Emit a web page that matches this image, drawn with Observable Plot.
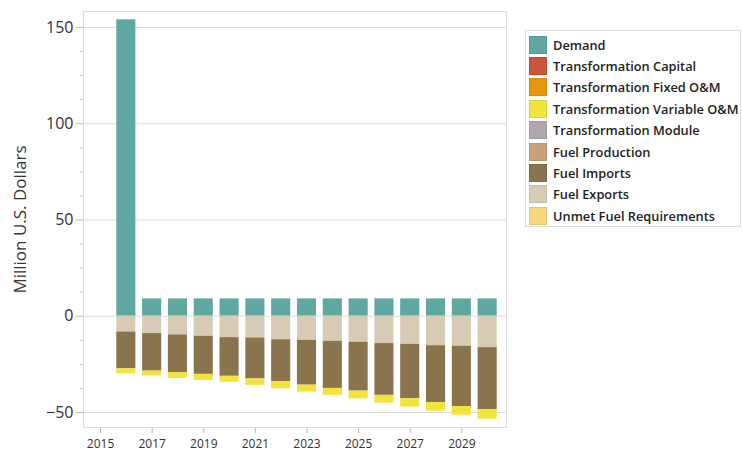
<!DOCTYPE html>
<html>
<head>
<meta charset="utf-8">
<script src="https://cdn.jsdelivr.net/npm/d3@7"></script>
<script src="https://cdn.jsdelivr.net/npm/@observablehq/plot@0.6"></script>
<style>
  html, body { margin: 0; padding: 0; background: #fff; }
  #wrap { position: relative; width: 742px; height: 451px; font-family: "Open Sans", sans-serif; }
  #legend { position: absolute; left: 525px; top: 30px; width: 216px; height: 197px; border: 1px solid #ddd; box-sizing: border-box; padding: 3px 0 0 3px; }
  .row { display: flex; align-items: center; height: 21.4px; }
  .sw { flex: 0 0 18px; width: 18px; height: 18px; margin-right: 6px; box-sizing: border-box; border: 1px solid rgba(0,0,0,0.08); }
  .lab { font-size: 12.8px; font-weight: 600; color: #222; white-space: nowrap; }
</style>
</head>
<body>
<div id="wrap"><div id="chart"></div><div id="legend"></div></div>
<script>
const years = [2016, 2017, 2018, 2019, 2020, 2021, 2022, 2023, 2024, 2025, 2026, 2027, 2028, 2029, 2030];
const seriesNames = ["Demand", "Transformation Capital", "Transformation Fixed O&M", "Transformation Variable O&M", "Transformation Module", "Fuel Production", "Fuel Imports", "Fuel Exports", "Unmet Fuel Requirements"];
const seriesColors = ["#5ea8a1", "#c9553b", "#e8960f", "#f2e43c", "#b1a6ad", "#caa07d", "#8a744d", "#d8cbb5", "#f7d97b"];
const demand = [154, 9, 9, 9, 9, 9, 9, 9, 9, 9, 9, 9, 9, 9, 9];
const fuelExports = [-8.2, -9.0, -9.7, -10.4, -11.1, -11.3, -12.2, -12.5, -13.0, -13.5, -14.2, -14.6, -15.3, -15.6, -16.3];
const fuelImports = [-19.1, -19.5, -19.6, -19.8, -20.1, -21.3, -21.8, -23.3, -24.5, -25.4, -26.9, -28.3, -29.5, -31.3, -32.3];
const variableOM = [-2.6, -2.6, -3.0, -3.1, -3.1, -3.3, -3.7, -3.6, -3.6, -4.0, -4.0, -4.3, -4.5, -4.5, -4.9];
const yTicks = [-50, 0, 50, 100, 150];
const yMinorTicks = [-37.5, -25, -12.5, 12.5, 25, 37.5, 62.5, 75, 87.5, 112.5, 125, 137.5];
const xTicks = [2015, 2017, 2019, 2021, 2023, 2025, 2027, 2029];
const yLabel = "Million U.S. Dollars";

const stacked = [
  ["Demand", demand],
  ["Fuel Exports", fuelExports],
  ["Fuel Imports", fuelImports],
  ["Transformation Variable O&M", variableOM]
];
const data = [];
years.forEach((yr, i) => {
  stacked.forEach(([name, vals]) => data.push({year: yr, series: name, value: vals[i]}));
});

const halfBar = 0.37;
const chart = Plot.plot({
  width: 742,
  height: 451,
  marginLeft: 83,
  marginRight: 236,
  marginTop: 11,
  marginBottom: 24,
  style: {fontFamily: "'Open Sans', sans-serif", background: "#fff"},
  x: {domain: [2014.34, 2030.73]},
  y: {domain: [-57.8, 158.3]},
  color: {domain: seriesNames, range: seriesColors},
  marks: [
    Plot.gridY(yTicks, {stroke: "#dcdcdc", strokeOpacity: 1}),
    Plot.axisY(yMinorTicks, {tickSize: 3, tickFormat: () => "", stroke: "#c8c8c8", label: null}),
    Plot.axisY(yTicks, {tickSize: 7, tickPadding: 3, fontSize: 16, stroke: "#bbb", color: "#333", label: null}),
    Plot.axisX(xTicks, {tickSize: 6, tickPadding: 6, fontSize: 12, tickFormat: d => String(d), stroke: "#bbb", color: "#333", label: null}),
    Plot.text([yLabel], {frameAnchor: "left", rotate: -90, dx: -63, textAnchor: "middle", lineAnchor: "middle", fontSize: 17, fill: "#333"}),
    Plot.rectY(data, {x1: d => d.year - halfBar, x2: d => d.year + halfBar, y: "value", fill: "series"}),
    Plot.frame({stroke: "#dcdcdc"})
  ]
});
document.getElementById("chart").appendChild(chart);

const legend = document.getElementById("legend");
seriesNames.forEach((name, i) => {
  const row = document.createElement("div");
  row.className = "row";
  const sw = document.createElement("div");
  sw.className = "sw";
  sw.style.background = seriesColors[i];
  const lab = document.createElement("span");
  lab.className = "lab";
  lab.textContent = name;
  row.appendChild(sw);
  row.appendChild(lab);
  legend.appendChild(row);
});
</script>
</body>
</html>
